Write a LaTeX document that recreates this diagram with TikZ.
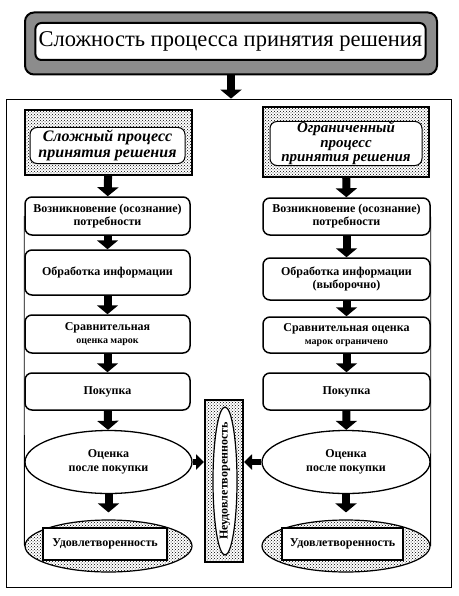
\documentclass[tikz,border=0pt]{standalone}
\usepackage{fontspec}
\setmainfont{Liberation Serif}
\usetikzlibrary{arrows.meta, shapes.geometric, patterns}

\begin{document}
\begin{tikzpicture}[
  x=1pt, y=-1pt,
  stage/.style={draw, line width=1.5pt, rounded corners=7pt, fill=white, align=center,
    inner sep=1pt, font=\fontsize{12}{13}\selectfont\bfseries},
  headbox/.style={draw, line width=2pt, pattern=crosshatch dots, inner sep=0pt},
  headtxt/.style={draw, line width=1pt, rounded corners=7pt, fill=white, align=center,
    inner sep=0pt, font=\fontsize{16}{16}\selectfont\bfseries\itshape},
  oval/.style={ellipse, draw, line width=1.3pt, fill=white, inner sep=0pt, align=center,
    font=\fontsize{12}{14}\selectfont\bfseries},
  dotoval/.style={ellipse, draw, line width=1.2pt, pattern=crosshatch dots, inner sep=0pt},
  okbox/.style={draw, line width=2pt, fill=white, inner sep=0pt,
    font=\fontsize{12}{13}\selectfont\bfseries},
  blk/.style={line width=8pt, -{Triangle[width=21pt,length=9pt]}},
  sideblk/.style={line width=6pt, -{Triangle[width=15pt,length=8pt]}},
  rail/.style={line width=0.8pt},
]
\useasboundingbox (0,0) rectangle (458,596);

% title
\node[draw, line width=2pt, rounded corners=9pt, fill=black!45,
  minimum width=412pt, minimum height=62pt] (title) at (231,43.5) {};
\node[draw, line width=2pt, rounded corners=6pt, fill=white, minimum width=383pt,
  minimum height=37pt, font=\fontsize{22.5}{22}\selectfont] (titletxt) at (230.5,41.5)
  {Сложность процесса принятия решения};
\node[draw, rail, minimum width=445pt, minimum height=488pt] (frame) at (228.5,343) {};
\draw[blk] (title.south) -- (title.south |- frame.north);

% left column
\node[headbox, minimum width=167pt, minimum height=65pt] (lhead) at (108.5,142.5) {};
\node[headtxt, minimum width=155pt, minimum height=36pt] (lheadtxt) at (107.5,145.5)
  {Сложный процесс\\принятия решения};
\node[stage, minimum width=165pt, minimum height=38pt] (l1) at (107.5,216)
  {Возникновение (осознание)\\потребности};
\node[stage, minimum width=165pt, minimum height=45pt] (l2) at (107.5,272.5)
  {Обработка информации};
\node[stage, minimum width=165pt, minimum height=38pt] (l3) at (107.5,334)
  {Сравнительная\\{\fontsize{10}{12}\selectfont оценка марок}};
\node[stage, minimum width=165pt, minimum height=37pt] (l4) at (107.5,391.5)
  {Покупка};
\node[oval, minimum width=167pt, minimum height=63pt] (lest) at (108.5,462)
  {Оценка\\после покупки};
\node[dotoval, minimum width=167pt, minimum height=52pt] (lsat) at (108.5,546) {};
\node[okbox, minimum width=124pt, minimum height=32pt] (lok) at (105,544)
  {Удовлетворенность};

% right column
\node[headbox, minimum width=166pt, minimum height=70pt] (rhead) at (346,142) {};
\node[headtxt, minimum width=152pt, minimum height=44pt,
  font=\fontsize{15}{14.5}\selectfont\bfseries\itshape] (rheadtxt) at (346,143.5)
  {Ограниченный\\процесс\\принятия решения};
\node[stage, minimum width=167pt, minimum height=37pt] (r1) at (346.5,216.5)
  {Возникновение (осознание)\\потребности};
\node[stage, minimum width=167pt, minimum height=42pt] (r2) at (346.5,279)
  {Обработка информации\\(выборочно)};
\node[stage, minimum width=167pt, minimum height=36pt] (r3) at (346.5,335)
  {Сравнительная оценка\\{\fontsize{10}{12}\selectfont марок ограничено}};
\node[stage, minimum width=167pt, minimum height=37pt] (r4) at (346.5,391.5)
  {Покупка};
\node[oval, minimum width=168pt, minimum height=63pt] (rest) at (346,462)
  {Оценка\\после покупки};
\node[dotoval, minimum width=168pt, minimum height=52pt] (rsat) at (346,546) {};
\node[okbox, minimum width=121pt, minimum height=32pt] (rok) at (342.5,544)
  {Удовлетворенность};

% middle
\node[headbox, minimum width=38pt, minimum height=162pt] (unsat) at (224,481) {};
\node[ellipse, draw, line width=1.2pt, fill=white, minimum width=24pt,
  minimum height=148pt, inner sep=0pt] (unsatring) at (225,481) {};
\node[rotate=90, inner sep=0pt, font=\fontsize{12}{13}\selectfont\bfseries]
  (unsattxt) at (unsatring) {Неудовлетворенность};

% arrows
\draw[blk] (lhead) -- (l1);
\draw[blk] (l1) -- (l2);
\draw[blk] (l2) -- (l3);
\draw[blk] (l3) -- (l4);
\draw[blk] (l4) -- (lest);
\draw[blk, shorten >=7pt] (lest) -- (lsat);
\draw[blk] (rhead) -- (r1);
\draw[blk] (r1) -- (r2);
\draw[blk] (r2) -- (r3);
\draw[blk] (r3) -- (r4);
\draw[blk] (r4) -- (rest);
\draw[blk, shorten >=7pt] (rest) -- (rsat);
\draw[sideblk] (lest.east) -- (lest.east -| unsat.west);
\draw[sideblk] (rest.west) -- (rest.west -| unsat.east);

% side rails
\draw[rail] (l1.west) -- (lsat.west);
\draw[rail] (r1.east) -- (rsat.east);
\end{tikzpicture}
\end{document}
